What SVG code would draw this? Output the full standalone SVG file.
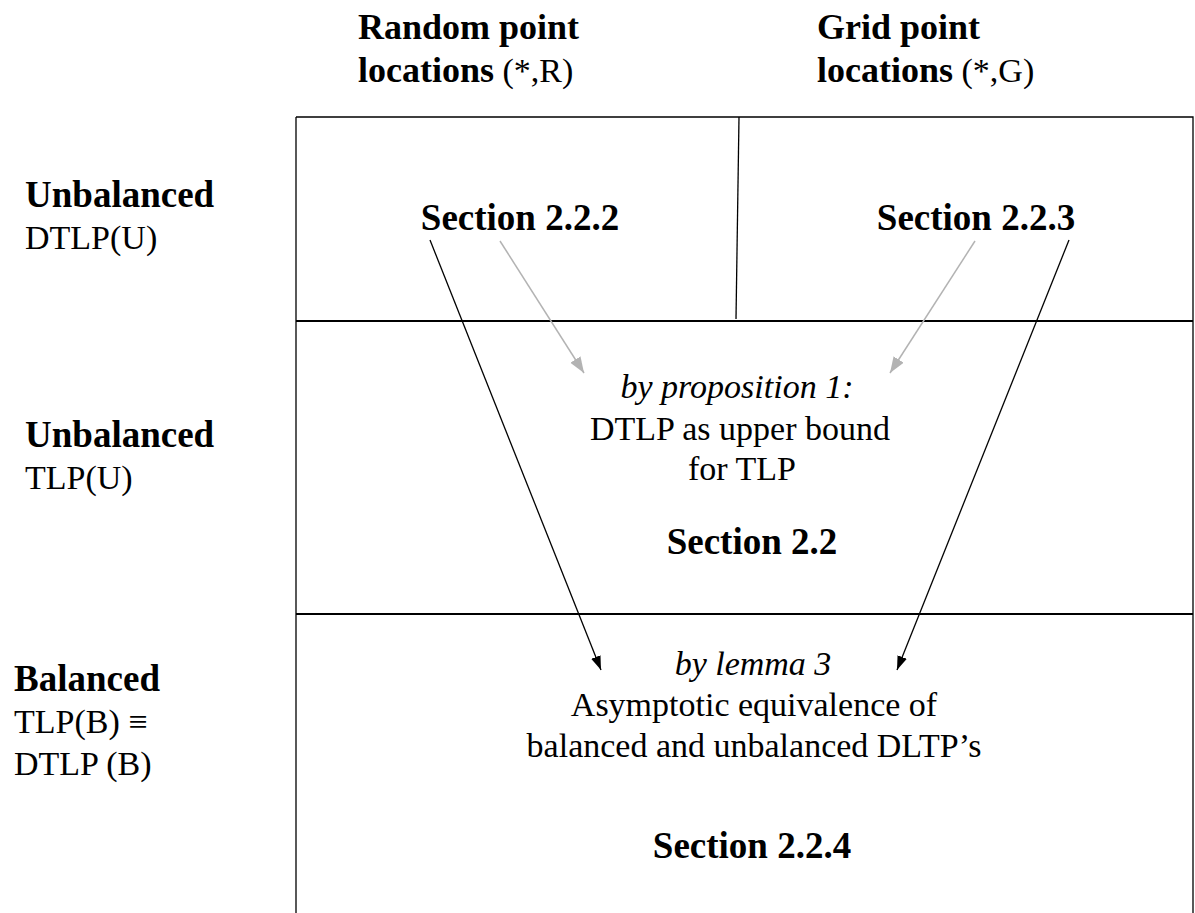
<svg xmlns="http://www.w3.org/2000/svg" width="1195" height="913" viewBox="0 0 1195 913">
<style>
text{font-family:"Liberation Serif","Times New Roman",serif;fill:#000}
.b{font-weight:bold;font-size:37px}
.h{font-weight:bold;font-size:36px}
.r{font-size:34px}
.i{font-style:italic;font-size:34px}
.c{text-anchor:middle}
.frame{stroke:#000;fill:none}
.ca{stroke:#000;stroke-width:1.3;fill:none}
.ga{stroke:#b3b3b3;stroke-width:1.5;fill:none}
</style>
<defs>
<marker id="ab" markerUnits="userSpaceOnUse" markerWidth="16" markerHeight="12" refX="14" refY="5" orient="auto">
<path d="M0,0 L14,5 L0,10 z" fill="#000"/>
</marker>
<marker id="ag" markerUnits="userSpaceOnUse" markerWidth="18" markerHeight="14" refX="16" refY="6" orient="auto">
<path d="M0,0 L16,6 L0,12 z" fill="#b3b3b3"/>
</marker>
</defs>
<rect width="1195" height="913" fill="#fff"/>
<g id="col-headers">
<text x="358" y="39" class="h">Random point</text>
<text x="358" y="82"><tspan class="h">locations</tspan><tspan class="r"> (*,R)</tspan></text>
<text x="817" y="39" class="h">Grid point</text>
<text x="817" y="82"><tspan class="h">locations</tspan><tspan class="r"> (*,G)</tspan></text>
</g>
<g id="row-headers">
<text x="25" y="207" class="b">Unbalanced</text>
<text x="25" y="249" class="r">DTLP(U)</text>
<text x="25" y="447" class="b">Unbalanced</text>
<text x="25" y="489" class="r">TLP(U)</text>
<text x="14" y="691" class="b">Balanced</text>
<text x="14" y="733" class="r">TLP(B) ≡</text>
<text x="14" y="775" class="r">DTLP (B)</text>
</g>
<g id="table">
<path class="frame" stroke-width="1.3" d="M296,117 H1193 V913 M296,117 V913"/>
<path class="frame" stroke-width="2.2" d="M296,321 H1193 M296,614 H1193"/>
<path class="frame" stroke-width="1.3" d="M739,117 L736,319"/>
</g>
<g id="node-s222"><text x="520" y="230" class="b c">Section 2.2.2</text></g>
<g id="node-s223"><text x="976" y="230" class="b c">Section 2.2.3</text></g>
<g id="node-s22">
<text x="737" y="398" class="i c">by proposition 1:</text>
<text x="740" y="440" class="r c">DTLP as upper bound</text>
<text x="742" y="480" class="r c">for TLP</text>
<text x="752" y="554" class="b c">Section 2.2</text>
</g>
<g id="node-s224">
<text x="753" y="675" class="i c">by lemma 3</text>
<text x="754" y="716" class="r c">Asymptotic equivalence of</text>
<text x="754" y="757" class="r c">balanced and unbalanced DLTP’s</text>
<text x="752" y="858" class="b c">Section 2.2.4</text>
</g>
<g id="connectors">
<line class="ca" x1="430" y1="240" x2="601" y2="670" marker-end="url(#ab)"/>
<line class="ca" x1="1069" y1="240" x2="897" y2="670" marker-end="url(#ab)"/>
<line class="ga" x1="500" y1="241" x2="584" y2="373" marker-end="url(#ag)"/>
<line class="ga" x1="975" y1="241" x2="890" y2="373" marker-end="url(#ag)"/>
</g>
</svg>
